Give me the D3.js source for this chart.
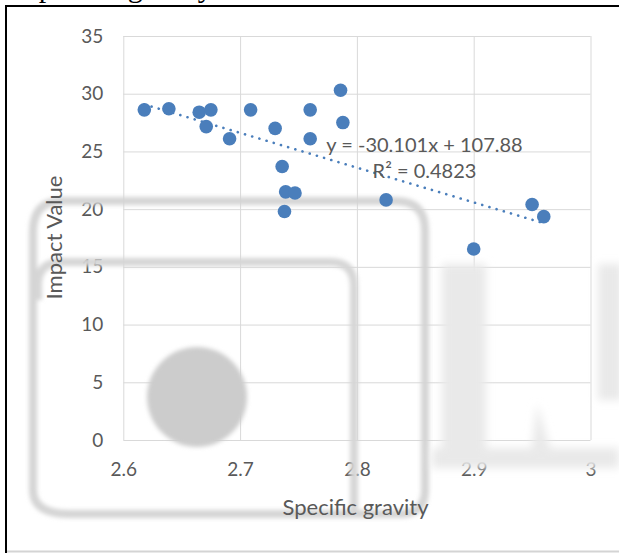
<!DOCTYPE html>
<html>
<head>
<meta charset="utf-8">
<script src="https://cdn.jsdelivr.net/npm/d3@7"></script>
<style>
  body { margin: 0; background: #fff; }
  svg { display: block; }
</style>
</head>
<body>
<svg id="chart" width="619" height="553"></svg>
<script>
// values
const specificGravity = [2.618, 2.639, 2.665, 2.675, 2.671, 2.691, 2.709, 2.730, 2.760, 2.786,
                         2.788, 2.760, 2.736, 2.739, 2.747, 2.738, 2.825, 2.900, 2.950, 2.960]
const impactValue = [28.6, 28.7, 28.4, 28.6, 27.15, 26.1, 28.6, 27.0, 28.6, 30.3,
                     27.5, 26.1, 23.7, 21.5, 21.4, 19.8, 20.8, 16.55, 20.4, 19.35]
const xTicks = [2.6, 2.7, 2.8, 2.9, 3]
const yTicks = [0, 5, 10, 15, 20, 25, 30, 35]
const trendSlope = -30.101
const trendIntercept = 107.88
const equationText = "y = -30.101x + 107.88"
const rSquaredText = "R² = 0.4823"
const xTitle = "Specific gravity"
const yTitle = "Impact Value"
const captionText = "Specific gravity"

const plot = { left: 123.3, right: 590.5, top: 36, bottom: 440 }
const textColor = "#595959"
const gridColor = "#d9d9d9"
const pointColor = "#4a7ebb"
const fontFamily = "Lato, 'Open Sans', sans-serif"

const svg = d3.select('#chart')

svg.append("rect")
    .attr("width", 619)
    .attr("height", 553)
    .attr("fill", "#fff")

let xScale = d3.scaleLinear()
    .domain([2.6, 3])
    .range([plot.left, plot.right])

let yScale = d3.scaleLinear()
    .domain([0, 35])
    .range([plot.bottom, plot.top])

// gridlines
let x_axis = d3.axisBottom(xScale)
    .tickValues(xTicks)
    .tickFormat(d3.format("~g"))
    .tickSize(-(plot.bottom - plot.top))
    .tickPadding(23)

let y_axis = d3.axisLeft(yScale)
    .tickValues(yTicks)
    .tickSize(-(plot.right - plot.left))
    .tickPadding(20)

let xg = svg.append("g")
    .attr("transform", `translate(0, ${plot.bottom})`)
    .call(x_axis)

let yg = svg.append("g")
    .attr("transform", `translate(${plot.left}, 0)`)
    .call(y_axis)

for (const g of [xg, yg]) {
    g.select(".domain").remove()
    g.selectAll("line").attr("stroke", gridColor).attr("stroke-width", 1)
    g.selectAll("text")
        .attr("fill", textColor)
        .attr("font-family", fontFamily)
        .attr("font-size", 19)
}

// faded logo watermark that sits over the grid
let defs = svg.append("defs")
defs.append("filter")
    .attr("id", "soft")
    .attr("x", "-10%").attr("y", "-10%").attr("width", "120%").attr("height", "120%")
    .append("feGaussianBlur")
    .attr("stdDeviation", 2.2)
defs.append("filter")
    .attr("id", "softer")
    .attr("x", "-20%").attr("y", "-20%").attr("width", "140%").attr("height", "140%")
    .append("feGaussianBlur")
    .attr("stdDeviation", 4)

let mark = svg.append("g")
    .attr("filter", "url(#soft)")
    .attr("fill", "none")

mark.append("path")
    .attr("d", "M33,490 L33,232 Q33,201 62,201 L395,201 Q425,201 425,230 L425,490 Q425,514 400,514 L70,514 Q33,514 33,490 Z")
    .attr("stroke", "#d4d4d4")
    .attr("stroke-width", 8)
mark.append("path")
    .attr("d", "M38,300 L38,285 Q38,262 62,262 L330,262 Q354,262 354,286 L354,512")
    .attr("stroke", "#d6d6d6")
    .attr("stroke-width", 8)

let faint = svg.append("g")
    .attr("filter", "url(#softer)")
    .attr("fill", "#e9e9e9")
faint.append("rect")
    .attr("x", 442).attr("y", 264).attr("width", 44).attr("height", 186)
faint.append("path")
    .attr("d", "M432,448 L532,448 L537,404 L550,448 L619,448 L619,468 L432,468 Z")
faint.append("rect")
    .attr("x", 598).attr("y", 264).attr("width", 24).attr("height", 136)

svg.append("circle")
    .attr("cx", 197).attr("cy", 397).attr("r", 50)
    .attr("fill", "#cccccc")
    .attr("filter", "url(#soft)")

// trendline
let trendX = d3.extent(specificGravity)
svg.append("path")
    .datum(trendX)
    .attr("d", d3.line()
        .x(d => xScale(d))
        .y(d => yScale(trendSlope * d + trendIntercept)))
    .attr("fill", "none")
    .attr("stroke", pointColor)
    .attr("stroke-width", 2.6)
    .attr("stroke-linecap", "round")
    .style("stroke-dasharray", "0.1, 7.4")

// points
svg.append("g")
    .selectAll("circle")
    .data(specificGravity.map((x, i) => [x, impactValue[i]]))
    .enter()
    .append("circle")
    .attr("cx", d => xScale(d[0]))
    .attr("cy", d => yScale(d[1]))
    .attr("r", 6.8)
    .attr("fill", pointColor)

// trendline label
let eq = svg.append("g")
    .attr("fill", textColor)
    .attr("font-family", fontFamily)
    .attr("font-size", 20)
    .attr("text-anchor", "middle")
eq.append("text").attr("x", 424.5).attr("y", 152).text(equationText)
eq.append("text").attr("x", 424.5).attr("y", 178).text(rSquaredText)

// axis titles
svg.append("text")
    .attr("x", 355.5).attr("y", 515)
    .attr("text-anchor", "middle")
    .attr("fill", textColor)
    .attr("font-family", fontFamily)
    .attr("font-size", 22)
    .text(xTitle)

svg.append("text")
    .attr("transform", "translate(62, 237.5) rotate(-90)")
    .attr("text-anchor", "middle")
    .attr("fill", textColor)
    .attr("font-family", fontFamily)
    .attr("font-size", 22)
    .text(yTitle)

// caption of the page above, cut off by the frame as in the picture
svg.append("text")
    .attr("x", 22).attr("y", -3)
    .attr("font-family", "'Liberation Serif', serif")
    .attr("font-size", 30)
    .attr("fill", "#000")
    .text(captionText)

// page frame
svg.append("line")
    .attr("x1", 6).attr("x2", 619).attr("y1", 6).attr("y2", 6)
    .attr("stroke", "#000").attr("stroke-width", 2)
svg.append("line")
    .attr("x1", 6).attr("x2", 6).attr("y1", 5).attr("y2", 553)
    .attr("stroke", "#000").attr("stroke-width", 2)
svg.append("line")
    .attr("x1", 7).attr("x2", 619).attr("y1", 551.5).attr("y2", 551.5)
    .attr("stroke", "#d4d4d4").attr("stroke-width", 2)
</script>
</body>
</html>
